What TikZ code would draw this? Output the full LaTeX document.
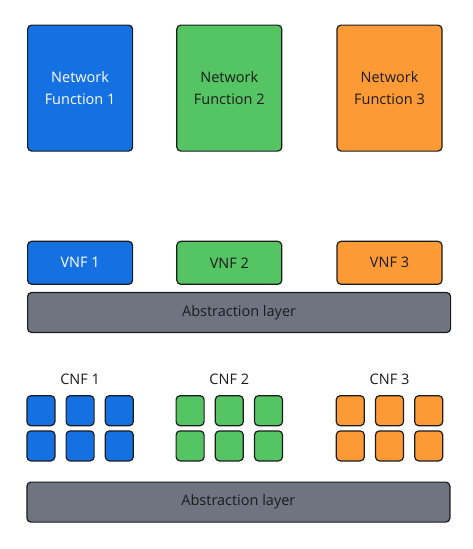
\documentclass[tikz,border=0pt]{standalone}
\usepackage{fontspec}
\setmainfont{Open Sans}
\usepackage{xcolor}
\usepackage{tikz}
\usetikzlibrary{positioning}

\definecolor{nfblue}{HTML}{1570E2}
\definecolor{nfgreen}{HTML}{55C463}
\definecolor{nforange}{HTML}{FC9A35}
\definecolor{layergray}{HTML}{6E7480}
\definecolor{edgeline}{HTML}{1C1C1E}
\definecolor{darktext}{HTML}{1C1C1E}

\begin{document}
\begin{tikzpicture}[x=1pt, y=-1pt, node distance=8pt]
        % Styles
        \tikzset{
            nfblock/.style={draw=edgeline, rectangle, rounded corners=4pt, line width=1.2pt, minimum width=105pt, minimum height=126pt, align=center, text=darktext, font=\fontsize{14.5}{22}\selectfont},
            vnfblock/.style={draw=edgeline, rectangle, rounded corners=4pt, line width=1.2pt, minimum width=105pt, minimum height=43pt, align=center, text=darktext, font=\fontsize{14.5}{18}\selectfont},
            layerblock/.style={draw=edgeline, fill=layergray, rectangle, rounded corners=4pt, line width=1.2pt, minimum width=423pt, minimum height=40pt, text=darktext, font=\fontsize{14.5}{18}\selectfont},
            cnfblock/.style={draw=edgeline, rectangle, rounded corners=4pt, line width=1.2pt, minimum width=28pt, minimum height=30pt, inner sep=0pt},
            cnflabel/.style={inner sep=0pt, text=darktext, font=\fontsize{14.5}{18}\selectfont}
        }
        \useasboundingbox (0,0) rectangle (473,549);

        % Network functions
        \node [nfblock, fill=nfblue, text=white, anchor=north west] (nf1) at (27,24.5) {Network\\Function 1};
        \node [nfblock, fill=nfgreen, right=43pt of nf1] (nf2) {Network\\Function 2};
        \node [nfblock, fill=nforange, right=54pt of nf2] (nf3) {Network\\Function 3};

        % VNF row
        \node [vnfblock, fill=nfblue, text=white, below=89pt of nf1] (vnf1) {VNF 1};
        \node [vnfblock, fill=nfgreen, below=89pt of nf2] (vnf2) {VNF 2};
        \node [vnfblock, fill=nforange, below=89pt of nf3] (vnf3) {VNF 3};
        \node [layerblock, below=7pt of vnf1.south west, anchor=north west] (al1) {Abstraction layer};

        % CNF groups
        \foreach \g/\col in {1/nfblue, 2/nfgreen, 3/nforange} {
            \coordinate (top\g) at (vnf\g.center |- al1.south);
            \node [cnfblock, fill=\col, below=62pt of top\g] (c\g2) {};
            \node [cnfblock, fill=\col, left=10pt of c\g2] (c\g1) {};
            \node [cnfblock, fill=\col, right=10pt of c\g2] (c\g3) {};
            \node [cnfblock, fill=\col, below=4pt of c\g1] (c\g4) {};
            \node [cnfblock, fill=\col, below=4pt of c\g2] (c\g5) {};
            \node [cnfblock, fill=\col, below=4pt of c\g3] (c\g6) {};
            \node [cnflabel, above=10pt of c\g2] (cnf\g) {CNF \g};
        }

        \node [layerblock, below=20pt of c14.south west, anchor=north west] (al2) {Abstraction layer};
    \end{tikzpicture}
\end{document}
